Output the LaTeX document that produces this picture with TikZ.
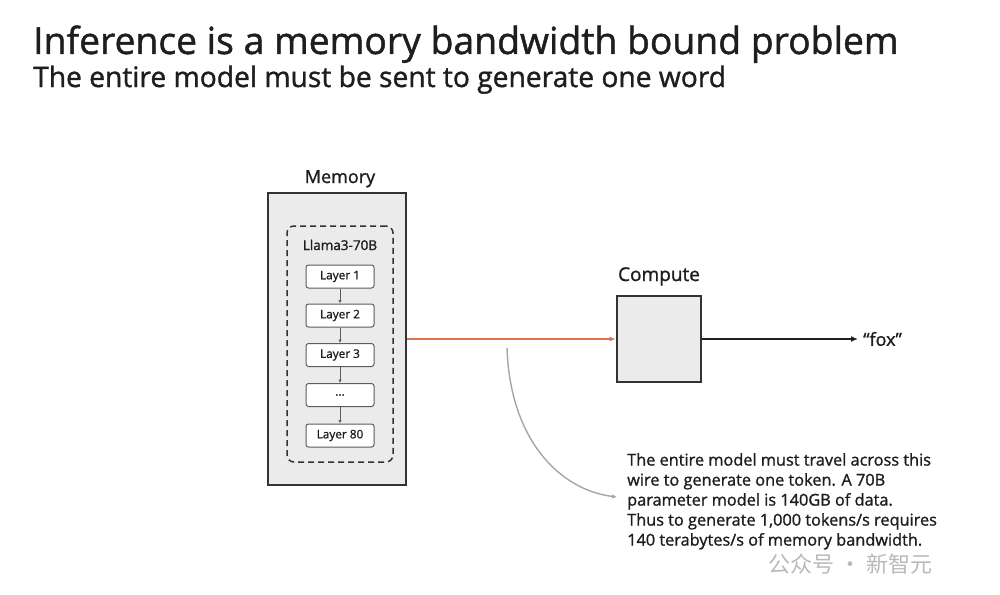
\documentclass[tikz,border=0pt]{standalone}
\usepackage{fontspec}
\setmainfont{Open Sans}[UprightFeatures={FakeBold=1.2}]
\newfontfamily\cjkfont{Noto Sans CJK SC}
\usetikzlibrary{arrows.meta}
\definecolor{boxfill}{HTML}{EBEBEB}
\definecolor{boxline}{HTML}{333333}
\definecolor{wire}{HTML}{E0704E}
\definecolor{txt}{HTML}{1E1E1E}
\tikzset{
  bigbox/.style={draw=boxline, line width=2.8pt, fill=boxfill},
  layerbox/.style={draw=boxline!80, line width=1pt, fill=white, rounded corners=2.5pt, minimum width=68pt, minimum height=23pt, inner sep=0pt, font=\fontsize{11.8}{13}\selectfont, text=txt},
  layerarrow/.style={draw=boxline!80, line width=0.8pt, -{Latex[length=3.5pt,width=3.5pt]}},
  lbl/.style={font=\fontsize{18}{21}\selectfont, text=txt, inner sep=0pt},
}
\begin{document}
\begin{tikzpicture}[x=1pt,y=-1pt]
\useasboundingbox[fill=white] (0,0) rectangle (1000,594);
% titles
\node[anchor=base west, inner sep=0pt, text=txt, font=\fontsize{37.3}{40}\selectfont] (title) at (33,54) {Inference is a memory bandwidth bound problem};
\node[anchor=base west, inner sep=0pt, text=txt, font=\fontsize{28.2}{30}\selectfont] (subtitle) at (33,87) {The entire model must be sent to generate one word};
% memory
\node[bigbox, minimum width=138pt, minimum height=292pt, inner sep=0pt] (mem) at (337,339) {};
\node[lbl, anchor=base] (memlbl) at (340,183) {Memory};
\node[draw=boxline, line width=1.5pt, dash pattern=on 6pt off 4pt, rounded corners=7pt, minimum width=106pt, minimum height=236pt, inner sep=0pt] (llama) at (340,344) {};
\node[anchor=base, inner sep=0pt, text=txt, font=\fontsize{13.5}{16}\selectfont] (llamalbl) at (340,250) {Llama3-70B};
\node[layerbox] (l1) at (340,276.5) {Layer 1};
\node[layerbox] (l2) at (340,315.5) {Layer 2};
\node[layerbox] (l3) at (340,355) {Layer 3};
\node[layerbox] (ld) at (340,395) {...};
\node[layerbox] (l80) at (340,435.5) {Layer 80};
\draw[layerarrow] (l1) -- (l2);
\draw[layerarrow] (l2) -- (l3);
\draw[layerarrow] (l3) -- (ld);
\draw[layerarrow] (ld) -- (l80);
% compute
\node[bigbox, minimum width=84pt, minimum height=86pt, inner sep=0pt] (comp) at (659,339) {};
\node[lbl, anchor=base, font=\fontsize{19}{21}\selectfont] (complbl) at (659,281) {Compute};
\node[anchor=west, inner sep=0pt, text=txt, font=\fontsize{18}{21}\selectfont] (fox) at (863,339) {“fox”};
\draw[wire, line width=1.6pt, -{Latex[length=6pt,width=5pt]}] (mem.east) -- (comp.west);
\draw[txt, line width=1.6pt, -{Latex[length=7pt,width=6pt]}] (comp.east) -- ([xshift=-5pt]fox.west);
% annotation
\node[anchor=north west, inner sep=0pt, text=txt, align=left, font=\fontsize{16.3}{20}\selectfont] (note) at (627,453) {The entire model must travel across this\\wire to generate one token. A 70B\\parameter model is 140GB of data.\\Thus to generate 1,000 tokens/s requires\\140 terabytes/s of memory bandwidth.};
\coordinate (wirept) at (507,348);
\coordinate (notept) at (617,497);
\draw[gray!70, line width=1.4pt, -{Latex[length=5pt,width=4.5pt]}] (wirept) .. controls (510,440) and (560,490) .. (notept);
% watermark
\node[anchor=base west, inner sep=0pt, text=gray!55, font=\cjkfont\fontsize{22}{24}\selectfont] (wm) at (768,572) {公众号 · 新智元};
\end{tikzpicture}
\end{document}
